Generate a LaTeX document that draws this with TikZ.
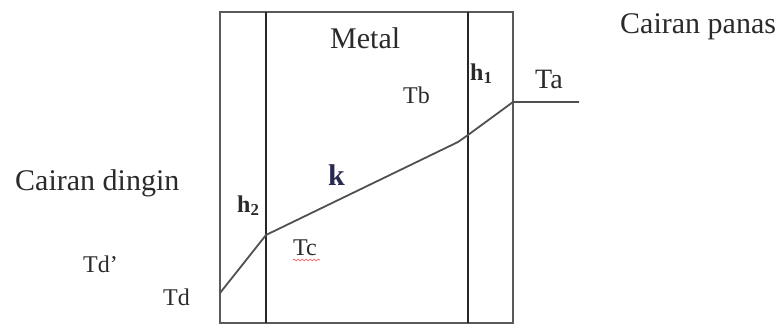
\documentclass[tikz,border=0pt]{standalone}
\usepackage{fontspec}
\setmainfont{Liberation Serif}
\usetikzlibrary{decorations.pathmorphing}
\definecolor{boxgray}{HTML}{5A5A5A}
\definecolor{linegray}{HTML}{505050}
\definecolor{txt}{HTML}{2A2A2A}
\definecolor{kcol}{HTML}{2A2A50}
\tikzset{
  lbl/.style={anchor=base west, inner sep=0pt, text=txt},
  big/.style={lbl, font=\fontsize{30}{32}\selectfont},
  bigta/.style={lbl, font=\fontsize{28}{30}\selectfont},
  mid/.style={lbl, font=\fontsize{24}{26}\selectfont},
  hlbl/.style={lbl, font=\fontsize{24}{26}\selectfont\bfseries},
  outerbox/.style={draw=boxgray, line width=1.8pt},
  wall/.style={draw=black!85, line width=1.4pt},
  profile/.style={draw=linegray, line width=1.8pt, line join=round},
}
\begin{document}
\begin{tikzpicture}[x=1pt, y=-1pt]
\useasboundingbox (0,0) rectangle (782,325);
% outer box
\coordinate (tl) at (220,12);
\coordinate (br) at (513,323);
\draw[outerbox] (tl) rectangle (br);
% walls
\coordinate (w1t) at (266,12);
\coordinate (w1b) at (266,323);
\coordinate (w2t) at (468,12);
\coordinate (w2b) at (468,323);
\draw[wall] (w1t) -- (w1b);
\draw[wall] (w2t) -- (w2b);
% temperature profile
\coordinate (pd) at (220,293);
\coordinate (pc) at (266,235);
\coordinate (pk) at (458,142);
\coordinate (pb) at (468,135);
\coordinate (pa) at (513,102);
\coordinate (pe) at (579,102);
\draw[profile] (pd) -- (pc) -- (pk) -- (pb) -- (pa) -- (pe);
% labels
\node[big] (metal) at (330,48) {Metal};
\node[big] (panas) at (620,33) {Cairan panas};
\node[big] (dingin) at (15,190) {Cairan dingin};
\node[bigta] (ta) at (535,88) {Ta};
\node[mid] (tb) at (403,103) {Tb};
\node[hlbl] (h1) at (470,80) {h\textsubscript{1}};
\node[hlbl] (h2) at (237,212) {h\textsubscript{2}};
\node[lbl, font=\fontsize{30}{32}\selectfont\bfseries, text=kcol] (k) at (328,185) {k};
\node[mid] (tc) at (293,255) {Tc};
\node[mid] (tdp) at (83,272) {Td’};
\node[mid] (td) at (163,305) {Td};
% spell-check squiggle under Tc
\coordinate (s1) at (293,260);
\coordinate (s2) at (320,260);
\draw[red!70, line width=0.6pt, decorate, decoration={snake, amplitude=1pt, segment length=4pt}] (s1) -- (s2);
\end{tikzpicture}
\end{document}
